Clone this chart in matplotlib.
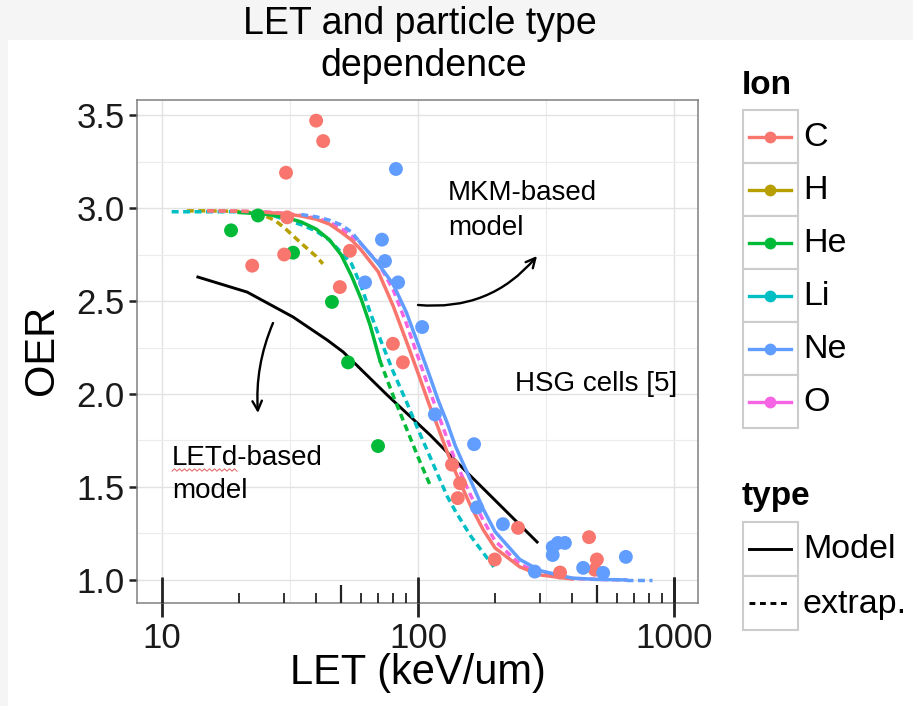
import numpy as np
import matplotlib.pyplot as plt
from matplotlib.patches import Rectangle

plt.rcParams['font.family'] = ['Liberation Sans', 'DejaVu Sans']

W, H = 913, 706

# ggplot default hue palette for the six ions
ion_names = ['C', 'H', 'He', 'Li', 'Ne', 'O']
ion_colors = ['#F8766D', '#B79F00', '#00BA38', '#00BFC4', '#619CFF', '#F564E3']
col = dict(zip(ion_names, ion_colors))

# measured OER values (HSG cells)
c_let = [40.0, 42.6, 30.5, 30.0, 22.5, 30.8, 54.2, 49.5, 79.8, 87.3, 135.8, 146, 143,
         199.5, 246, 359, 466, 500, 491]
c_oer = [3.47, 3.36, 3.19, 2.75, 2.69, 2.95, 2.77, 2.575, 2.27, 2.17, 1.62, 1.52, 1.44,
         1.11, 1.28, 1.04, 1.23, 1.11, 1.055]
he_let = [18.6, 23.7, 32.5, 46.1, 53.3, 69.8]
he_oer = [2.88, 2.96, 2.76, 2.495, 2.17, 1.72]
ne_let = [82.0, 72.3, 74.3, 62.1, 83.6, 103.8, 116.4, 165.6, 170, 214.7, 286, 336, 352,
          375, 336, 442, 529, 649]
ne_oer = [3.21, 2.83, 2.715, 2.60, 2.60, 2.36, 1.89, 1.73, 1.39, 1.30, 1.045, 1.177, 1.199,
          1.199, 1.134, 1.065, 1.038, 1.124]

# MKM-based model curves (solid = model range, dashed = extrapolation)
c_ext_let = [15, 20, 23.5]
c_ext_oer = [2.985, 2.983, 2.98]
c_mod_let = [23.5, 30, 35, 40, 45, 50, 55, 60, 70, 80, 90, 100, 110, 120, 130, 140,
             160, 180, 200, 250, 300, 400]
c_mod_oer = [2.98, 2.97, 2.957, 2.94, 2.914, 2.871, 2.828, 2.774, 2.656, 2.473, 2.285,
             2.113, 1.952, 1.817, 1.688, 1.581, 1.403, 1.269, 1.172, 1.07, 1.027, 1.005]

h_ext_let = [12.5, 15, 20, 22.5, 25, 27.5, 30, 35, 40, 42.5]
h_ext_oer = [2.985, 2.985, 2.982, 2.975, 2.96, 2.935, 2.895, 2.81, 2.74, 2.70]

he_mod_let = [20, 25, 30, 35, 40, 45, 50, 55, 60, 65, 71]
he_mod_oer = [2.976, 2.968, 2.952, 2.925, 2.887, 2.83, 2.75, 2.635, 2.51, 2.37, 2.18]
he_ext_let = [71, 80, 90, 100, 111]
he_ext_oer = [2.18, 1.99, 1.817, 1.661, 1.516]

li_ext_let = [10.9, 15, 20, 25, 30, 35, 40, 45, 50, 55, 60, 65, 70, 80, 90, 100, 110,
              120, 130, 140, 160, 180, 198]
li_ext_oer = [2.98, 2.98, 2.98, 2.975, 2.94, 2.91, 2.876, 2.828, 2.763, 2.70, 2.58, 2.44,
              2.32, 2.12, 1.96, 1.81, 1.68, 1.56, 1.45, 1.37, 1.24, 1.145, 1.07]

ne_ext1_let = [35, 40, 45, 50, 55, 59]
ne_ext1_oer = [2.965, 2.953, 2.935, 2.91, 2.871, 2.82]
ne_mod_let = [59, 70, 80, 90, 100, 110, 120, 130, 140, 160, 180, 200, 250, 300, 400,
              500, 650]
ne_mod_oer = [2.82, 2.70, 2.59, 2.44, 2.27, 2.113, 1.965, 1.845, 1.72, 1.54, 1.38, 1.26,
              1.11, 1.05, 1.01, 1.003, 1.0]
ne_ext2_let = [650, 820]
ne_ext2_oer = [1.0, 1.0]

o_ext_let = [15, 20, 25, 30, 35, 40, 45, 50, 55, 60, 70, 80, 90, 100, 110, 120, 130,
             140, 160, 180, 200, 250, 300, 400, 500, 650]
o_ext_oer = [2.985, 2.983, 2.98, 2.972, 2.96, 2.945, 2.925, 2.89, 2.85, 2.805, 2.705,
             2.56, 2.38, 2.2, 2.035, 1.89, 1.76, 1.64, 1.46, 1.32, 1.21, 1.085, 1.035,
             1.008, 1.003, 1.0]

# LETd-based model
letd_let = [13.8, 21.5, 32.5, 44.2, 51.0, 75.7, 111.4, 155, 292]
letd_oer = [2.629, 2.548, 2.414, 2.29, 2.226, 1.995, 1.78, 1.58, 1.204]

fig = plt.figure(figsize=(W / 100, H / 100), dpi=100)
fig.patch.set_facecolor('#f5f5f5')
fig.add_artist(Rectangle((8 / W, 0), 1, (H - 40) / H, transform=fig.transFigure,
                         fc='white', ec='none', zorder=-1))

# panel in pixels: left 137, right 698, top 100, bottom 603
ax = fig.add_axes([137 / W, (H - 603) / H, (698 - 137) / W, (603 - 100) / H])
ax.set_xscale('log')
ax.set_xlim(7.98, 1242)
ax.set_ylim(0.876, 3.581)

ax.set_xticks([10, 100, 1000])
ax.set_xticklabels(['10', '100', '1000'])
ax.set_xticks([10 ** 1.5, 10 ** 2.5], minor=True)
ax.set_yticks([1.0, 1.5, 2.0, 2.5, 3.0, 3.5])
ax.set_yticklabels(['1.0', '1.5', '2.0', '2.5', '3.0', '3.5'])
ax.set_yticks([1.25, 1.75, 2.25, 2.75, 3.25], minor=True)
ax.xaxis.set_minor_formatter(plt.NullFormatter())
ax.tick_params(which='minor', length=0)
ax.tick_params(axis='y', which='major', length=6, width=1.8, color='#222222',
               labelsize=25, labelcolor='#1a1a1a', pad=3)
ax.tick_params(axis='x', which='major', length=10, width=2.0, color='#222222',
               labelsize=25, labelcolor='#1a1a1a', pad=4)
ax.grid(which='major', color='#e2e2e2', lw=1.0)
ax.grid(which='minor', color='#ececec', lw=0.8)
ax.set_axisbelow(True)
for s in ax.spines.values():
    s.set_color('#808080')
    s.set_linewidth(1.1)

# log ticks drawn inside the panel along the bottom
xt = ax.get_xaxis_transform()
for dec in [1, 10, 100]:
    for m in range(1, 10):
        v = m * dec * 10
        if v < 8 or v > 1242:
            continue
        if m == 1:
            ln, lw = 26 / 503, 2.0
        elif m == 5:
            ln, lw = 18 / 503, 1.6
        else:
            ln, lw = 10 / 503, 1.3
        ax.plot([v, v], [0, ln], transform=xt, color='#222222', lw=lw,
                solid_capstyle='butt', clip_on=False, zorder=3)
ax.plot([1000, 1000], [0, 26 / 503], transform=xt, color='#222222', lw=2.0,
        solid_capstyle='butt', clip_on=False, zorder=3)

lw_c = 2.5
dash = (2.0, 1.3)
ax.plot(letd_let, letd_oer, color='black', lw=2.1, zorder=2)
ax.plot(h_ext_let, h_ext_oer, color=col['H'], lw=lw_c, dashes=dash)
ax.plot(li_ext_let, li_ext_oer, color=col['Li'], lw=lw_c, dashes=dash)
ax.plot(he_ext_let, he_ext_oer, color=col['He'], lw=lw_c, dashes=dash)
ax.plot(he_mod_let, he_mod_oer, color=col['He'], lw=lw_c)
ax.plot(o_ext_let, o_ext_oer, color=col['O'], lw=lw_c, dashes=dash)
ax.plot(c_ext_let, c_ext_oer, color=col['C'], lw=lw_c, dashes=dash)
ax.plot(c_mod_let, c_mod_oer, color=col['C'], lw=lw_c)
ax.plot(ne_ext1_let, ne_ext1_oer, color=col['Ne'], lw=lw_c, dashes=dash)
ax.plot(ne_mod_let, ne_mod_oer, color=col['Ne'], lw=lw_c)
ax.plot(ne_ext2_let, ne_ext2_oer, color=col['Ne'], lw=lw_c, dashes=dash)

ms = 100
ax.scatter(he_let, he_oer, s=ms, color=col['He'], edgecolors='none', zorder=4)
ax.scatter(c_let, c_oer, s=ms, color=col['C'], edgecolors='none', zorder=4)
ax.scatter(ne_let, ne_oer, s=ms, color=col['Ne'], edgecolors='none', zorder=4)

# overlay in pixel units for titles, notes and legends
ov = fig.add_axes([0, 0, 1, 1], zorder=5)
ov.set_xlim(0, W)
ov.set_ylim(H, 0)
ov.axis('off')

ov.text(420, 34, 'LET and particle type', fontsize=27, ha='center', va='baseline')
ov.text(424, 76, 'dependence', fontsize=27, ha='center', va='baseline')
ov.text(418, 684, 'LET (keV/um)', fontsize=30, ha='center', va='baseline')
ov.text(53, 350, 'OER', fontsize=30, rotation=90, ha='center', va='baseline',
        rotation_mode='anchor')

ov.text(448, 200, 'MKM-based', fontsize=20, va='baseline')
ov.text(448, 235, 'model', fontsize=20, va='baseline')
ov.text(172, 465, 'LETd-based', fontsize=20, va='baseline')
ov.text(172, 498, 'model', fontsize=20, va='baseline')
ov.text(515, 391, 'HSG cells [5]', fontsize=20, va='baseline')
zx = np.arange(172, 238, 2.5)
ov.plot(zx, 470 + 1.2 * (-1) ** np.arange(len(zx)), color='#e06060', lw=0.7)

ov.annotate('', xy=(537, 256), xytext=(418, 305),
            arrowprops=dict(arrowstyle='->', connectionstyle='arc3,rad=0.26',
                            lw=1.7, color='black', shrinkA=0, shrinkB=0,
                            mutation_scale=17))
ov.annotate('', xy=(258, 413), xytext=(273, 323),
            arrowprops=dict(arrowstyle='->', connectionstyle='arc3,rad=0.12',
                            lw=1.7, color='black', shrinkA=0, shrinkB=0,
                            mutation_scale=17))

# legend: Ion
ov.text(742, 86, 'Ion', fontsize=24, fontweight='bold', va='center')
kh = 53
for i, (name, c) in enumerate(zip(ion_names, ion_colors)):
    y0 = 110 + i * kh
    ov.add_patch(Rectangle((743, y0), 55, kh, fc='white', ec='#cccccc', lw=1.5))
    yc = y0 + kh / 2
    ov.plot([749, 791], [yc, yc], color=c, lw=2.4)
    ov.plot([770], [yc], 'o', color=c, ms=8.5, mec='none')
    ov.text(803, yc + 1, name, fontsize=24.5, va='center')

# legend: type
ov.text(742, 497, 'type', fontsize=24, fontweight='bold', va='center')
for i, (name, ls) in enumerate([('Model', '-'), ('extrap.', '--')]):
    y0 = 522 + i * 54
    ov.add_patch(Rectangle((743, y0), 55, 54, fc='white', ec='#cccccc', lw=1.5))
    yc = y0 + 27
    if ls == '-':
        ov.plot([749, 791], [yc, yc], color='black', lw=2.1)
    else:
        ov.plot([749, 791], [yc, yc], color='black', lw=2.1, dashes=(2.0, 1.6))
    ov.text(803, yc + 1, name, fontsize=24.5, va='center')

fig.savefig('out.png', dpi=100, facecolor=fig.get_facecolor())
